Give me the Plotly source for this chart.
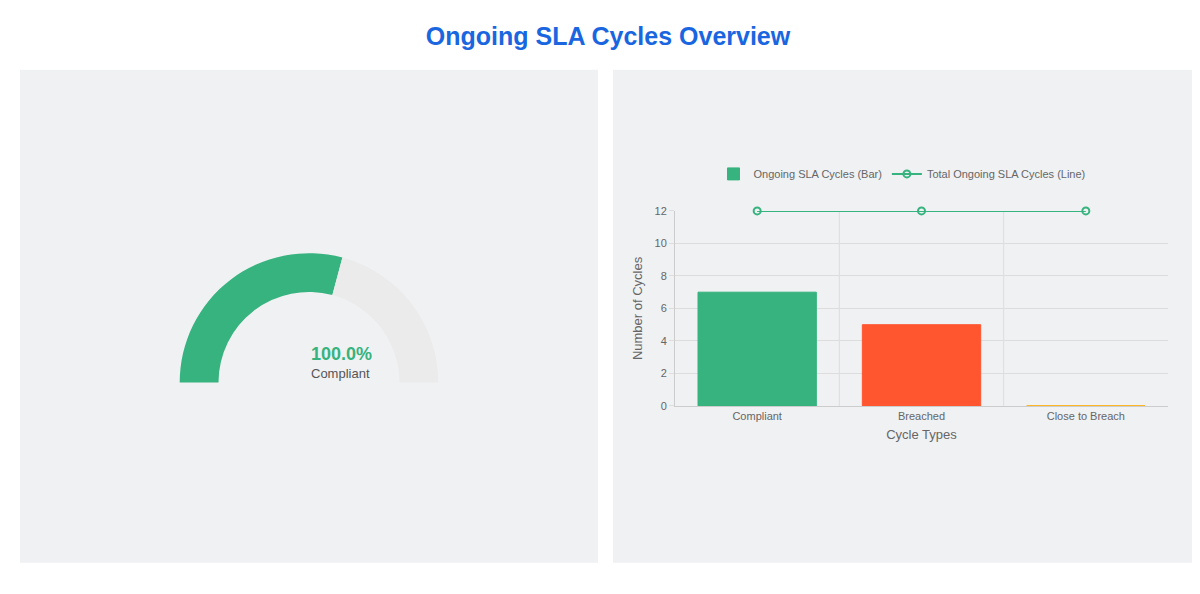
import plotly.graph_objects as go

# data
categories = ["Compliant", "Breached", "Close to Breach"]
cycle_counts = [7, 5, 0]
total_cycles = [12, 12, 12]
bar_colors = ["#36b37e", "#ff5630", "#ffab00"]
gauge_values = [7, 5]
gauge_label = "100.0%"

fig = go.Figure()

# gauge: half donut, bottom half hidden
fig.add_trace(go.Pie(
    values=gauge_values + [sum(gauge_values)],
    marker=dict(colors=["#36b37e", "#ebebeb", "rgba(0,0,0,0)"], line=dict(width=0)),
    hole=0.70, sort=False, direction="clockwise", rotation=270,
    textinfo="none", hoverinfo="skip", showlegend=False,
    domain=dict(x=[0.1408, 0.3608], y=[0.1448, 0.589]),
))

fig.add_trace(go.Bar(
    x=categories, y=cycle_counts, name="Ongoing SLA Cycles (Bar)",
    marker=dict(color=bar_colors, line=dict(color=bar_colors, width=1)),
    width=0.72,
))
fig.add_trace(go.Scatter(
    x=categories, y=total_cycles, name="Total Ongoing SLA Cycles (Line)",
    mode="lines+markers", line=dict(color="#36b37e", width=2),
    marker=dict(symbol="circle-open", size=7, color="#36b37e", line=dict(width=2)),
    cliponaxis=False,
))

# panels
for x0, x1 in [(12, 590), (605, 1184)]:
    fig.add_shape(type="rect", xref="paper", yref="paper",
                  x0=x0 / 1200, x1=x1 / 1200, y0=1 - 560 / 594, y1=1 - 57 / 594,
                  fillcolor="#f0f1f3", line=dict(width=0), layer="below")

for xv in [0.5, 1.5]:
    fig.add_shape(type="line", xref="x", yref="y", x0=xv, x1=xv, y0=0, y1=12,
                  line=dict(color="#dddddd", width=1), layer="below")

fig.add_annotation(x=301 / 1200, y=1 - 347 / 594, xref="paper", yref="paper",
                   text="<b>" + gauge_label + "</b>", showarrow=False,
                   font=dict(size=18, color="#36b37e"))
fig.add_annotation(x=301 / 1200, y=1 - 367 / 594, xref="paper", yref="paper",
                   text="Compliant", showarrow=False, font=dict(size=13, color="#555"))

fig.update_layout(
    width=1200, height=594, margin=dict(l=0, r=0, t=0, b=0),
    paper_bgcolor="white", plot_bgcolor="rgba(0,0,0,0)",
    font=dict(family="Helvetica, Liberation Sans, Arial", color="#666", size=11),
    title=dict(text="<b>Ongoing SLA Cycles Overview</b>", x=0.5, y=1 - 28 / 594,
               xanchor="center", yanchor="middle",
               font=dict(size=25, color="#1a66e0")),
    xaxis=dict(domain=[667 / 1200, 1160 / 1200], showgrid=False, showline=True,
               linecolor="#cccccc", title=dict(text="Cycle Types", standoff=8),
               range=[-0.5, 2.5]),
    yaxis=dict(domain=[194 / 594, 393 / 594], range=[0, 12], dtick=2,
               gridcolor="#dddddd", showline=True, linecolor="#cccccc",
               zeroline=False, ticks="outside", tickcolor="#dddddd",
               title=dict(text="Number of Cycles", standoff=8)),
    legend=dict(orientation="h", x=894 / 1200, y=1 - 178 / 594,
                xanchor="center", yanchor="bottom", bgcolor="rgba(0,0,0,0)"),
    bargap=0.28,
)

fig.write_html("out.html")
